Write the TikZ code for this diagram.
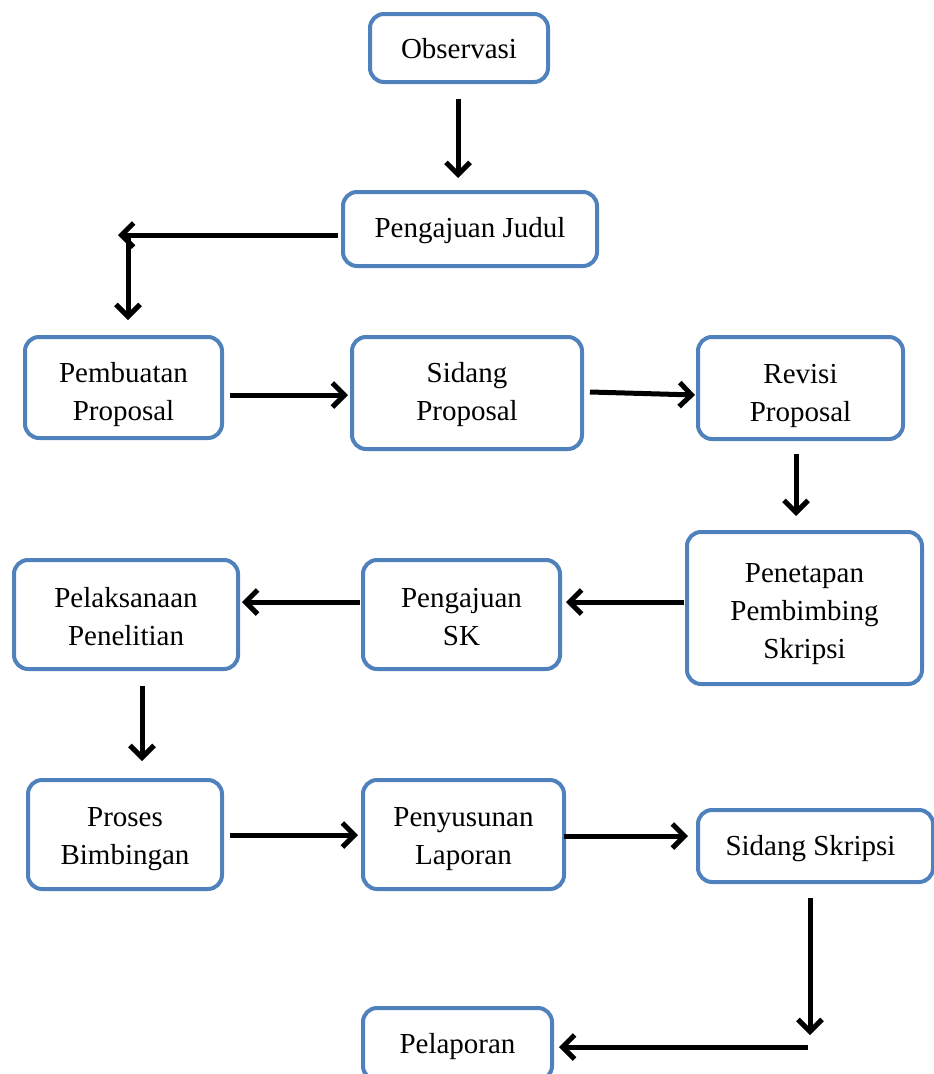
\documentclass[tikz,border=0pt]{standalone}
\usepackage{fontspec}
\setmainfont{Liberation Serif}
\usetikzlibrary{arrows.meta,calc}
\definecolor{boxblue}{HTML}{4F81BD}
\begin{document}
\begin{tikzpicture}[x=1pt,y=-1pt,
  box/.style={draw=boxblue,line width=4pt,rounded corners=14pt,fill=white,inner sep=0pt},
  lbl/.style={align=center,font=\fontsize{29}{38}\selectfont,inner sep=0pt},
  arr/.style={line width=5pt,-{Straight Barb[length=12pt,width=24pt]}}]
\useasboundingbox (0,0) rectangle (934,1074);
\clip (0,0) rectangle (934,1074);
\node[box,minimum width=178pt,minimum height=68pt,label={[lbl,yshift=-1pt]center:Observasi}] (obs) at (459,48) {};
\node[box,minimum width=254pt,minimum height=74pt,label={[lbl,yshift=-2pt]center:Pengajuan Judul}] (pj) at (470,229) {};
\node[box,minimum width=197pt,minimum height=101pt,label={[lbl,yshift=-7pt]center:Pembuatan\\Proposal}] (pp) at (123.5,387.5) {};
\node[box,minimum width=230pt,minimum height=112pt,label={[lbl,yshift=-2pt]center:Sidang\\Proposal}] (sp) at (467,393) {};
\node[box,minimum width=205pt,minimum height=102pt,label={[lbl,yshift=-8pt]center:Revisi\\Proposal}] (rp) at (800.5,388) {};
\node[box,minimum width=235pt,minimum height=152pt,label={[lbl,yshift=-6.5pt]center:Penetapan\\Pembimbing\\Skripsi}] (pps) at (804.5,608) {};
\node[box,minimum width=197pt,minimum height=109pt,label={[lbl,yshift=-2.5pt]center:Pengajuan\\SK}] (psk) at (461.5,614.5) {};
\node[box,minimum width=224pt,minimum height=109pt,label={[lbl,yshift=-2.5pt]center:Pelaksanaan\\Penelitian}] (pl) at (126,614.5) {};
\node[box,minimum width=194pt,minimum height=109pt,label={[lbl,yshift=-4.5pt]center:Proses\\Bimbingan}] (pb) at (125,834.5) {};
\node[box,minimum width=201pt,minimum height=109pt,label={[lbl,yshift=-4.5pt]center:Penyusunan\\Laporan}] (pyl) at (463.5,834.5) {};
\node[box,minimum width=235pt,minimum height=72pt,label={[lbl,yshift=-3pt,xshift=-5pt]center:Sidang Skripsi}] (ss) at (815.5,846) {};
\node[box,minimum width=189pt,minimum height=72pt,label={[lbl,yshift=-3pt]center:Pelaporan}] (pel) at (457.5,1044) {};
\coordinate (c1) at (118,235);
\coordinate (c2) at (810,1035);
\draw[arr] ($(obs.south)+(-1,15)$) -- ($(pj.north)+(-12,-12)$);
\draw[arr] ($(pj.west)+(-3,6)$) -- (c1);
\draw[arr] ($(c1)+(10,-2)$) -- ($(pp.north)+(4.5,-15)$);
\draw[arr] ($(pp.east)+(6,7.5)$) -- ($(sp.west)+(-2,2)$);
\draw[arr] ($(sp.east)+(6,-1)$) -- ($(rp.west)+(-1,7)$);
\draw[arr] ($(rp.south)+(-4.5,13)$) -- ($(pps.north)+(-8.5,-14)$);
\draw[arr] ($(pps.west)+(-1,-6)$) -- ($(psk.east)+(4,-12.5)$);
\draw[arr] ($(psk.west)+(-1,-12.5)$) -- ($(pl.east)+(2,-12.5)$);
\draw[arr] ($(pl.south)+(16,15)$) -- ($(pb.north)+(17,-17)$);
\draw[arr] ($(pb.east)+(6,0.5)$) -- ($(pyl.west)+(-3,0.5)$);
\draw[arr] ($(pyl.east)+(-2,1.5)$) -- ($(ss.west)+(-8,-10)$);
\draw[arr] ($(ss.south)+(-5.5,14)$) -- (c2);
\draw[arr] ($(c2)+(-2,12)$) -- ($(pel.east)+(5,3)$);
\end{tikzpicture}
\end{document}
